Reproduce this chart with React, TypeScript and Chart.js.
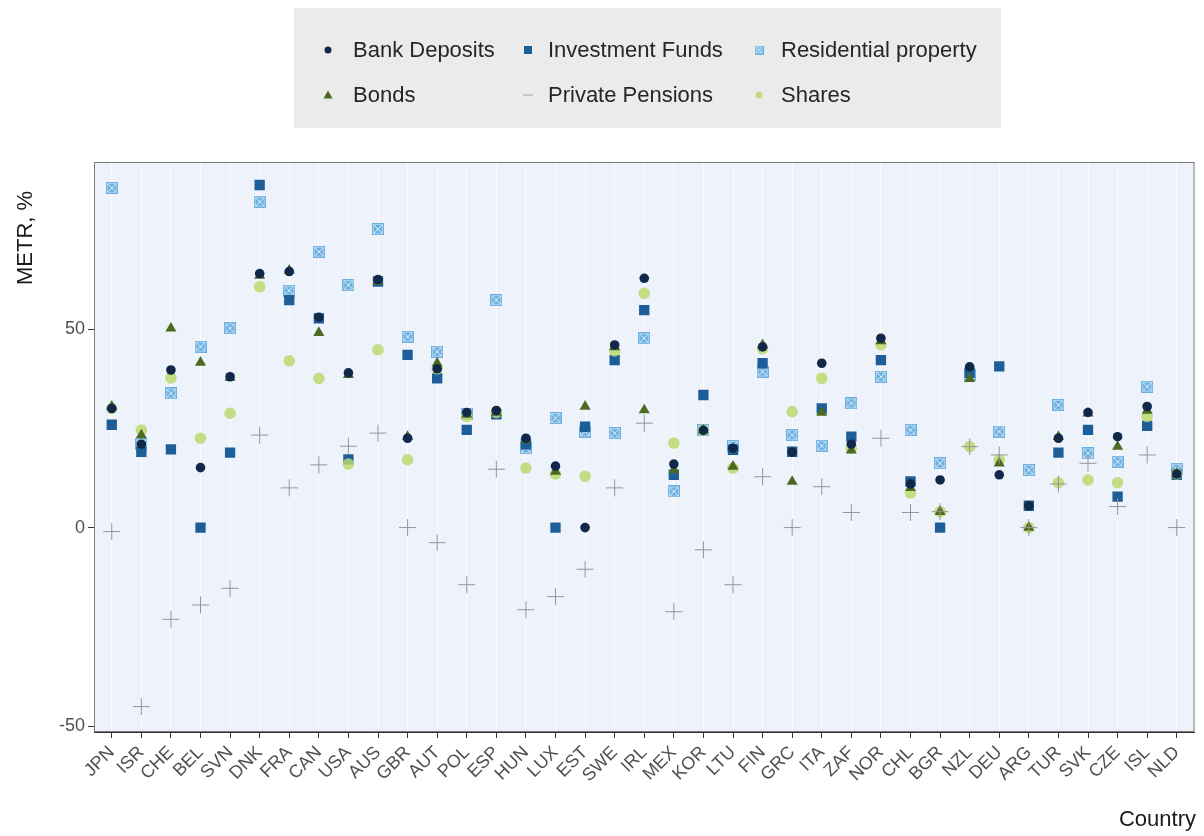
import React, { useEffect, useRef } from "react";
import { Chart, registerables } from "chart.js";

Chart.register(...registerables);

const countries = ["JPN","ISR","CHE","BEL","SVN","DNK","FRA","CAN","USA","AUS","GBR","AUT","POL","ESP","HUN","LUX","EST","SWE","IRL","MEX","KOR","LTU","FIN","GRC","ITA","ZAF","NOR","CHL","BGR","NZL","DEU","ARG","TUR","SVK","CZE","ISL","NLD"];

const bankDeposits = [30, 21, 39.7, 15.1, 38, 64, 64.5, 53, 39, 62.5, 22.5, 40, 29, 29.5, 22.5, 15.5, 0, 46, 62.8, 16, 24.5, 20, 45.5, 19, 41.4, 21, 47.7, 11, 12, 40.5, 13.3, 5.5, 22.5, 29, 22.9, 30.5, 13.5];
const investmentFunds = [25.9, 19.1, 19.7, 0, 18.9, 86.3, 57.3, 52.7, 17.2, 62, 43.5, 37.6, 24.6, 28.5, 21, 0, 25.4, 42.2, 54.8, 13.3, 33.4, 19.6, 41.4, 19.1, 30, 22.9, 42.2, 11.6, 0, 39, 40.6, 5.5, 18.9, 24.6, 7.8, 25.6, 13.3];
const residentialProperty = [85.6, 21, 33.8, 45.6, 50.2, 82.1, 59.7, 69.5, 61.1, 75.2, 48.1, 44.3, 28.5, 57.3, 20, 27.6, 24.2, 23.8, 47.7, 9.1, 24.6, 20.6, 39.3, 23.3, 20.6, 31.3, 38, 24.6, 16.2, 38.5, 24.2, 14.5, 30.9, 18.7, 16.6, 35.5, 14.8];
const bonds = [30.5, 23.3, 50.2, 41.6, 37.8, 63.5, 64.8, 49.1, 38.5, 62, 22.9, 41.4, 28.5, 29, 22, 14.1, 30.5, 45.5, 29.6, 14.5, 24.5, 15.4, 46, 11.6, 29, 19.5, 47, 10, 4, 37.5, 16.2, 0, 22.9, 28.8, 20.4, 29.5, 13.5];
const privatePensions = [-1, -45.1, -23.1, -19.5, -15.3, 23.3, 10, 15.8, 20.5, 23.8, 0, -3.8, -14.4, 14.7, -20.7, -17.4, -10.5, 10, 26.3, -21.2, -5.6, -14.4, 12.8, 0, 10.3, 3.8, 22.5, 3.8, 4, 20.4, 18.3, 0, 11, 16.2, 5.3, 18.3, 0];
const shares = [30, 24.6, 37.7, 22.5, 28.8, 60.7, 42, 37.6, 16, 44.8, 17.1, 40, 28, 29, 15, 13.5, 12.9, 44.5, 59, 21.3, 24.5, 15, 45, 29.2, 37.6, 20, 46, 8.7, 4, 20.4, 17, 0, 11.3, 12, 11.3, 28, 13.5];

const yTicks = [-50, 0, 50];

const COL_BANK = "#11284a";
const COL_IF = "#1e5e98";
const COL_RP = "#6cb0e2";
const COL_BONDS = "#4d6a22";
const COL_PP = "#959595";
const COL_SHARES = "rgba(186,216,110,0.85)";
const FONT = "'Liberation Sans', Arial, Helvetica, sans-serif";

function makeRP(size: number): HTMLCanvasElement {
  const c = document.createElement("canvas");
  c.width = size;
  c.height = size;
  const g = c.getContext("2d")!;
  g.fillStyle = COL_RP;
  g.fillRect(0, 0, size, size);
  g.strokeStyle = "rgba(255,255,255,0.8)";
  g.lineWidth = 1;
  g.beginPath();
  g.moveTo(2, 2);
  g.lineTo(size - 2, size - 2);
  g.moveTo(size - 2, 2);
  g.lineTo(2, size - 2);
  g.stroke();
  g.strokeStyle = "rgba(255,255,255,0.45)";
  g.strokeRect(1.5, 1.5, size - 3, size - 3);
  return c;
}

type Kind = "bank" | "if" | "rp" | "bonds" | "pp" | "shares";

function drawMarker(ctx: CanvasRenderingContext2D, kind: Kind, x: number, y: number, s: number) {
  ctx.save();
  if (kind === "bank") {
    ctx.fillStyle = COL_BANK;
    ctx.beginPath();
    ctx.arc(x, y, s, 0, Math.PI * 2);
    ctx.fill();
  } else if (kind === "shares") {
    ctx.fillStyle = COL_SHARES;
    ctx.beginPath();
    ctx.arc(x, y, s, 0, Math.PI * 2);
    ctx.fill();
  } else if (kind === "if") {
    ctx.fillStyle = COL_IF;
    ctx.fillRect(x - s, y - s, 2 * s, 2 * s);
  } else if (kind === "rp") {
    const img = makeRP(Math.round(2 * s));
    ctx.drawImage(img, x - s, y - s);
  } else if (kind === "bonds") {
    ctx.fillStyle = COL_BONDS;
    ctx.beginPath();
    ctx.moveTo(x, y - s);
    ctx.lineTo(x + s, y + s * 0.75);
    ctx.lineTo(x - s, y + s * 0.75);
    ctx.closePath();
    ctx.fill();
  } else if (kind === "pp") {
    ctx.strokeStyle = "#b0b0b0";
    ctx.lineWidth = 1.2;
    ctx.beginPath();
    ctx.moveTo(x - s, y);
    ctx.lineTo(x + s, y);
    ctx.stroke();
  }
  ctx.restore();
}

const legendItems: { kind: Kind; label: string; mx: number; tx: number; y: number; s: number }[] = [
  { kind: "bank", label: "Bank Deposits", mx: 328, tx: 353, y: 50, s: 3.5 },
  { kind: "if", label: "Investment Funds", mx: 528, tx: 548, y: 50, s: 4 },
  { kind: "rp", label: "Residential property", mx: 759, tx: 781, y: 50, s: 4.5 },
  { kind: "bonds", label: "Bonds", mx: 328, tx: 353, y: 95, s: 4.5 },
  { kind: "pp", label: "Private Pensions", mx: 528, tx: 548, y: 95, s: 5 },
  { kind: "shares", label: "Shares", mx: 759, tx: 781, y: 95, s: 3.5 },
];

const decorPlugin = {
  id: "decor",
  beforeDraw(chart: any) {
    const { ctx, chartArea } = chart;
    ctx.save();
    ctx.fillStyle = "#ffffff";
    ctx.fillRect(0, 0, chart.width, chart.height);
    ctx.fillStyle = "#eef3fb";
    ctx.fillRect(chartArea.left, chartArea.top, chartArea.right - chartArea.left, chartArea.bottom - chartArea.top);
    ctx.restore();
  },
  afterDraw(chart: any) {
    const { ctx, chartArea } = chart;
    ctx.save();
    ctx.strokeStyle = "#7a7a7a";
    ctx.lineWidth = 1;
    ctx.strokeRect(chartArea.left + 0.5, chartArea.top + 0.5, chartArea.right - chartArea.left - 1, chartArea.bottom - chartArea.top - 1);
    ctx.fillStyle = "#ebebeb";
    ctx.fillRect(294, 8, 707, 120);
    ctx.font = `22px ${FONT}`;
    ctx.textBaseline = "middle";
    ctx.textAlign = "left";
    for (const it of legendItems) {
      drawMarker(ctx, it.kind, it.mx, it.y, it.s);
      ctx.fillStyle = "#262626";
      ctx.fillText(it.label, it.tx, it.y + 1);
    }
    ctx.fillStyle = "#1a1a1a";
    ctx.font = `22px ${FONT}`;
    ctx.save();
    ctx.translate(26, 238);
    ctx.rotate(-Math.PI / 2);
    ctx.textAlign = "center";
    ctx.textBaseline = "middle";
    ctx.fillText("METR, %", 0, 0);
    ctx.restore();
    ctx.textAlign = "right";
    ctx.textBaseline = "alphabetic";
    ctx.fillText("Country", 1196, 826);
    ctx.restore();
  },
};

export default function App() {
  const ref = useRef<HTMLCanvasElement | null>(null);

  useEffect(() => {
    document.body.style.margin = "0";
    const canvas = ref.current!;
    const pts = (arr: number[]) => arr.map((v, i) => ({ x: i, y: v }));
    const rpImg = makeRP(12);
    const chart = new Chart(canvas, {
      type: "scatter",
      data: {
        datasets: [
          { label: "Private Pensions", data: pts(privatePensions), pointStyle: "cross", pointRadius: 8.5, borderColor: COL_PP, backgroundColor: COL_PP, borderWidth: 1 } as any,
          { label: "Bank Deposits", data: pts(bankDeposits), pointStyle: "circle", pointRadius: 4.8, backgroundColor: COL_BANK, borderColor: COL_BANK, borderWidth: 0 },
          { label: "Bonds", data: pts(bonds), pointStyle: "triangle", pointRadius: 6.4, backgroundColor: COL_BONDS, borderColor: COL_BONDS, borderWidth: 0 },
          { label: "Shares", data: pts(shares), pointStyle: "circle", pointRadius: 5.8, backgroundColor: COL_SHARES, borderColor: COL_SHARES, borderWidth: 0 },
          { label: "Investment Funds", data: pts(investmentFunds), pointStyle: "rect", pointRadius: 7.3, backgroundColor: COL_IF, borderColor: COL_IF, borderWidth: 0 },
          { label: "Residential property", data: pts(residentialProperty), pointStyle: rpImg as any, pointRadius: 6, backgroundColor: COL_RP, borderColor: COL_RP, borderWidth: 0 },
        ],
      },
      options: {
        animation: false,
        responsive: false,
        maintainAspectRatio: false,
        layout: { padding: { left: 0, right: 7, top: 162, bottom: 0 } },
        plugins: { legend: { display: false }, tooltip: { enabled: false } },
        scales: {
          x: {
            type: "linear",
            min: -0.6,
            max: countries.length - 1 + 0.6,
            afterBuildTicks: (ax: any) => {
              ax.ticks = countries.map((_, i) => ({ value: i }));
            },
            afterFit: (ax: any) => {
              ax.height = 104;
            },
            ticks: {
              autoSkip: false,
              maxRotation: 45,
              minRotation: 45,
              padding: 4,
              color: "#505050",
              font: { size: 18, family: FONT },
              callback: (v: any) => countries[Math.round(Number(v))] ?? "",
            },
            grid: { color: "rgba(255,255,255,0.7)", lineWidth: 1, drawTicks: true, tickLength: 6, tickColor: "#333333", tickWidth: 1 },
            border: { display: true, color: "#333333", width: 1 },
          },
          y: {
            type: "linear",
            min: -51.5,
            max: 92.1,
            afterBuildTicks: (ax: any) => {
              ax.ticks = yTicks.map((v) => ({ value: v }));
            },
            afterFit: (ax: any) => {
              ax.width = 94;
            },
            ticks: {
              padding: 3,
              color: "#505050",
              font: { size: 18, family: FONT },
              callback: (v: any) => String(v),
            },
            grid: { drawOnChartArea: false, drawTicks: true, tickLength: 6, tickColor: "#333333", tickWidth: 1 },
            border: { display: true, color: "#333333", width: 1 },
          },
        },
      },
      plugins: [decorPlugin],
    });
    return () => chart.destroy();
  }, []);

  return (
    <div style={{ width: 1204, height: 836 }}>
      <canvas ref={ref} width={1204} height={836} style={{ display: "block", width: 1204, height: 836 }} />
    </div>
  );
}
